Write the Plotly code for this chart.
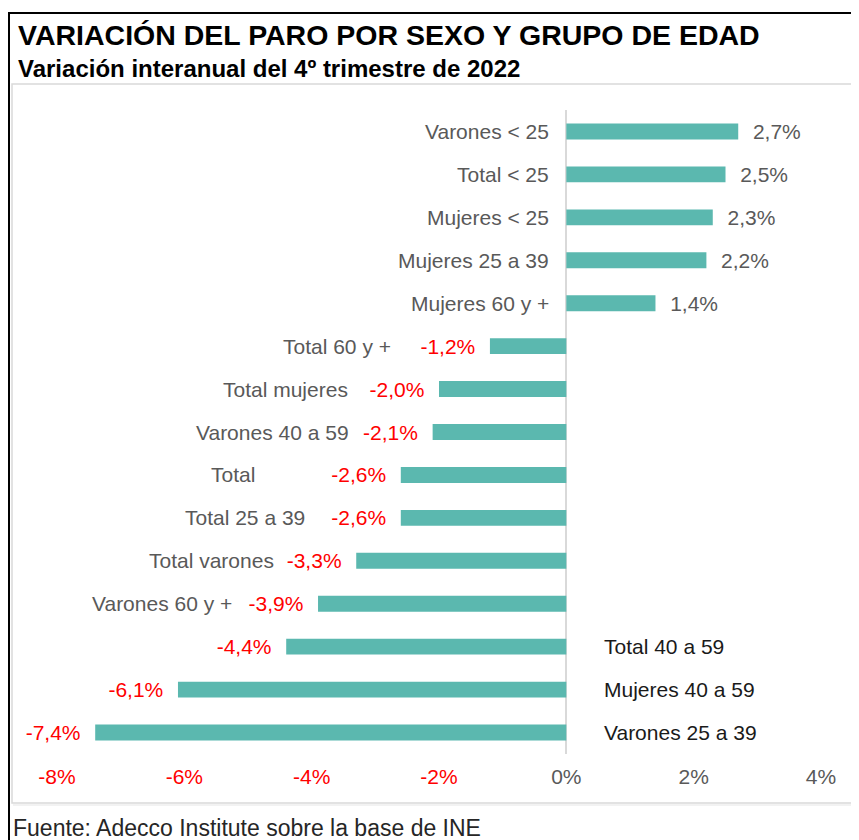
import plotly.graph_objects as go

# ---------------- data ----------------
categories = ["Varones < 25", "Total < 25", "Mujeres < 25", "Mujeres 25 a 39",
              "Mujeres 60 y +", "Total 60 y +", "Total mujeres", "Varones 40 a 59",
              "Total", "Total 25 a 39", "Total varones", "Varones 60 y +",
              "Total 40 a 59", "Mujeres 40 a 59", "Varones 25 a 39"]
values = [2.7, 2.5, 2.3, 2.2, 1.4, -1.2, -2.0, -2.1, -2.6, -2.6, -3.3, -3.9, -4.4, -6.1, -7.4]
tick_vals = [-8, -6, -4, -2, 0, 2, 4]
tick_labels = ["-8%", "-6%", "-4%", "-2%", "0%", "2%", "4%"]

title = "VARIACIÓN DEL PARO POR SEXO Y GRUPO DE EDAD"
subtitle = "Variación interanual del 4º trimestre de 2022"
source = "Fuente: Adecco Institute sobre la base de INE"

# ---------------- style ----------------
OFF = 8                      # page body margin
W, H = 859 - OFF, 840 - OFF
L, T = 57 - OFF, 110 - OFF
R, B = 38, 86
PW, PH = W - L - R, H - T - B
BAR = "#5BB8AF"
GREY = "#595959"
RED = "#FF0000"
FONT = "Liberation Sans, Arial, sans-serif"
NB = "\u00a0"

# pixel gap between bar end and category label (negative rows)
neg_label_gap = {"Total 60 y +": 99, "Total mujeres": 91, "Varones 40 a 59": 84,
                 "Total": 146, "Total 25 a 39": 96, "Total varones": 82,
                 "Varones 60 y +": 86}


def fmt(v):
    return f"{v:.1f}".replace(".", ",") + "%"


def px_x(px):  # px: screen pixel of the reference
    return (px - OFF - L) / PW


def px_y(py):
    return 1 - (py - OFF - T) / PH


texts = [(NB * 2 + fmt(v)) if v > 0 else (fmt(v) + NB * 2) for v in values]
text_colors = [GREY if v > 0 else RED for v in values]

fig = go.Figure(go.Bar(
    x=values, y=categories, orientation="h",
    marker=dict(color=BAR, line=dict(width=0)),
    text=texts, textposition="outside", constraintext="none", cliponaxis=False,
    textfont=dict(family=FONT, size=21, color=text_colors),
    hoverinfo="skip",
))

annotations = []
for c, v in zip(categories, values):
    if v > 0:
        annotations.append(dict(x=0, y=c, xref="x", yref="y", text=c, showarrow=False,
                                xanchor="right", xshift=-15,
                                font=dict(family=FONT, size=21, color=GREY)))
    elif v > -4:
        annotations.append(dict(x=v, y=c, xref="x", yref="y", text=c, showarrow=False,
                                xanchor="right", xshift=-neg_label_gap[c] + 2,
                                font=dict(family=FONT, size=21, color=GREY)))
    else:
        annotations.append(dict(x=0, y=c, xref="x", yref="y", text=c, showarrow=False,
                                xanchor="left", xshift=36,
                                font=dict(family=FONT, size=21, color="#1A1A1A")))

annotations += [
    dict(x=px_x(16), y=px_y(35), xref="paper", yref="paper", text="<b>" + title + "</b>",
         showarrow=False, xanchor="left", yanchor="middle",
         font=dict(family=FONT, size=28.5, color="#000000")),
    dict(x=px_x(16), y=px_y(69), xref="paper", yref="paper", text="<b>" + subtitle + "</b>",
         showarrow=False, xanchor="left", yanchor="middle",
         font=dict(family=FONT, size=24, color="#000000")),
    dict(x=px_x(11), y=px_y(828), xref="paper", yref="paper", text=source,
         showarrow=False, xanchor="left", yanchor="middle",
         font=dict(family=FONT, size=23, color="#262626")),
]

shapes = [
    # outer black frame (left and top)
    dict(type="line", xref="paper", yref="paper", x0=px_x(9), x1=px_x(9),
         y0=px_y(13), y1=px_y(842), line=dict(color="#000000", width=2)),
    dict(type="line", xref="paper", yref="paper", x0=px_x(8), x1=px_x(861),
         y0=px_y(13), y1=px_y(13), line=dict(color="#000000", width=2)),
    # inner chart box
    dict(type="rect", xref="paper", yref="paper", x0=px_x(12), x1=px_x(857),
         y0=px_y(84), y1=px_y(803), line=dict(color="#D9D9D9", width=1.5),
         layer="below"),
    dict(type="line", xref="paper", yref="paper", x0=px_x(13), x1=px_x(858),
         y0=px_y(805), y1=px_y(805), line=dict(color="#EEEEEE", width=1.5)),
]

tick_text = [f'<span style="color:{RED}">{t}</span>' if v < 0 else t
             for v, t in zip(tick_vals, tick_labels)]

fig.update_layout(
    width=W, height=H,
    margin=dict(l=L, r=R, t=T, b=B, pad=0),
    paper_bgcolor="white", plot_bgcolor="white",
    showlegend=False, bargap=0.63,
    font=dict(family=FONT, color=GREY),
    xaxis=dict(range=[-8, 4], tickvals=tick_vals, ticktext=tick_text,
               tickfont=dict(family=FONT, size=21, color=GREY),
               showgrid=False, zeroline=True, zerolinecolor="#D9D9D9", zerolinewidth=1.5,
               showline=False, ticks="", ticklabelstandoff=8, fixedrange=True),
    yaxis=dict(categoryorder="array", categoryarray=categories, autorange="reversed",
               showticklabels=False, showgrid=False, zeroline=False, showline=False,
               ticks="", fixedrange=True),
    annotations=annotations,
    shapes=shapes,
)

fig.write_html("out.html")
